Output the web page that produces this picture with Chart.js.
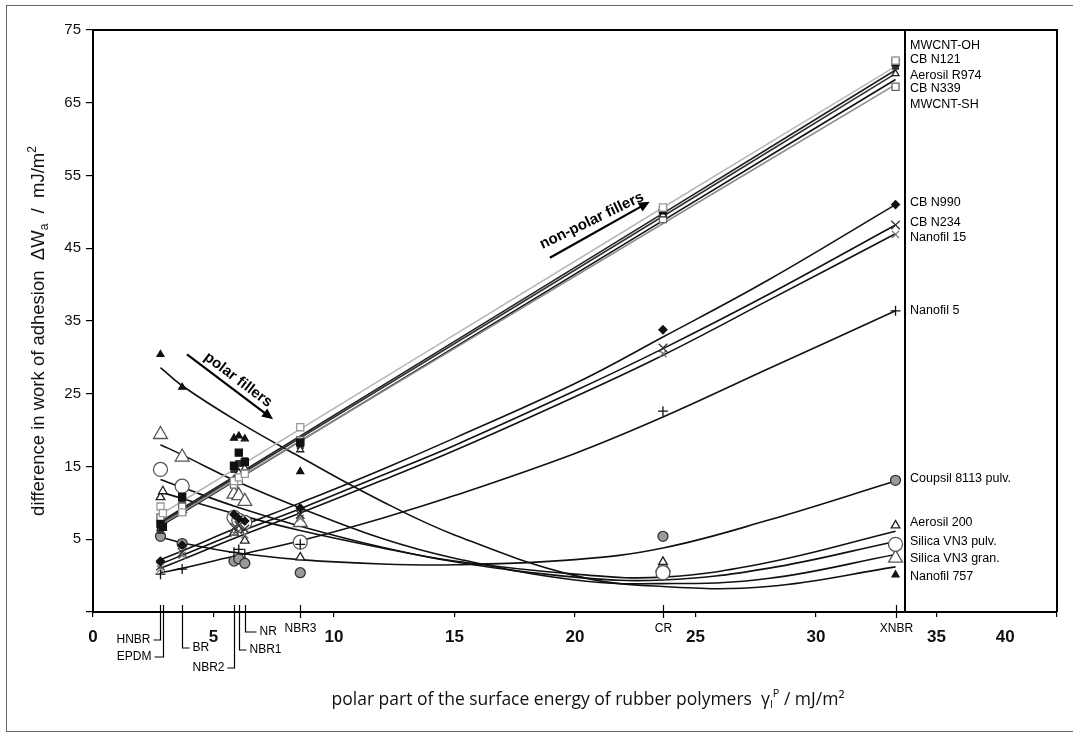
<!DOCTYPE html>
<html>
<head>
<meta charset="utf-8">
<script src="https://cdn.jsdelivr.net/npm/chart.js@4.4.1/dist/chart.umd.min.js"></script>
<style>
  body { margin: 0; background: #fff; }
  #wrap { width: 1073px; height: 738px; }
</style>
</head>
<body>
<div id="wrap"><canvas id="chart" width="1073" height="738"></canvas></div>
<script>
// rubber polymers and the polar part of their surface energy (mJ/m²)
const rubbers = ['HNBR', 'EPDM', 'BR', 'NBR2', 'NBR1', 'NR', 'NBR3', 'CR', 'XNBR'];
const polarPart = [2.8, 2.9, 3.7, 5.85, 6.05, 6.3, 8.6, 23.65, 33.3];
const xTicks = [0, 5, 10, 15, 20, 25, 30, 35, 40];

// measured ΔWa for each filler, one value per rubber above (null = no point)
const wMwcntOh   = [9.5, 8.6, 8.7, 13.0, 13.5, 14.0, 20.4, 50.6, 70.8];
const wCbN121    = [7.1, 6.7, 10.8, 15.1, 16.9, 15.6, 18.3, 50.2, 70.6];
const wAerosR974 = [6.5, null, 8.6, 13.2, 14.2, 14.8, 17.3, 49.6, 69.0];
const wCbN339    = [8.0, null, 9.5, 12.5, 13.0, 14.0, 18.6, 49.0, 67.2];
const wMwcntSh   = [6.2, null, 10.2, 14.6, 15.4, 15.8, 17.9, 49.8, 70.0];
const wCbN990    = [2.0, null, 4.2, 8.4, 7.8, 7.5, 9.3, 33.8, 51.0];
const wCbN234    = [1.3, null, 3.2, 6.6, 6.9, 6.4, 8.4, 31.3, 48.2];
const wNanofil15 = [0.9, null, 2.8, 5.8, 6.1, 5.6, 7.9, 30.5, 46.9];
const wNanofil5  = [0.2, null, 0.9, 3.2, 3.6, 3.0, 4.3, 22.6, 36.4];
const wCoupsil   = [5.4, null, 4.4, 2.0, 2.3, 1.7, 0.4, 5.4, 13.1];
const wAeros200  = [10.8, 11.6, 9.0, 5.9, 6.3, 4.8, 2.5, 1.9, 6.9];
const wVn3Pulv   = [14.6, null, 12.3, 8.0, 7.6, 7.3, 4.6, 0.4, 4.3];
const wVn3Gran   = [19.4, null, 16.3, 11.2, 11.0, 10.2, 7.3, 1.2, 2.4];
const wNanofil757 = [30.4, null, 25.9, 18.9, 19.2, 18.8, 14.3, 0.9, 0.1];

// trend curves, sampled at trendX
const trendX = [2.8, 3.7, 6, 8.6, 12, 15, 20, 23.65, 28, 33.3];
const tMwcntOh   = [8.4, null, null, null, null, null, null, 50.6, null, 70.0];
const tCbN121    = [7.4, null, null, null, null, null, null, 49.8, null, 69.5];
const tAerosR974 = [7.2, null, null, null, null, null, null, 49.4, null, 69.0];
const tCbN339    = [7.0, null, null, null, null, null, null, 48.4, null, 67.5];
const tMwcntSh   = [6.8, null, null, null, null, null, null, 48.8, null, 68.2];
const tCbN990    = [2.2, 3.4, 6.6, 10.0, 14.6, 18.9, 26.4, 32.8, 40.6, 51.0];
const tCbN234    = [1.6, 2.8, 5.9, 9.2, 13.8, 17.9, 25.4, 31.2, 38.6, 48.2];
const tNanofil15 = [1.0, 2.2, 5.3, 8.6, 13.1, 17.2, 24.6, 30.3, 37.8, 47.0];
const tNanofil5  = [0.4, 1.0, 2.8, 4.8, 7.9, 11.0, 16.8, 21.8, 28.4, 36.4];
const tCoupsil   = [5.3, 4.5, 3.1, 2.2, 1.6, 1.5, 2.2, 3.8, 7.6, 13.0];
const tAeros200  = [11.5, 10.6, 8.4, 6.2, 3.8, 2.0, 0.2, -0.2, 1.8, 6.1];
const tVn3Pulv   = [13.2, 12.1, 9.4, 6.8, 3.9, 1.9, -0.2, -0.6, 1.0, 4.7];
const tVn3Gran   = [18.0, 16.6, 12.9, 9.3, 5.1, 2.4, -0.6, -1.1, -0.4, 2.9];
const tNanofil757 = [28.6, 26.1, 21.2, 16.3, 10.2, 5.6, 0.0, -1.5, -1.5, 1.2];

const series = [
  { name: 'MWCNT-OH', measured: wMwcntOh, trend: tMwcntOh },
  { name: 'CB N121', measured: wCbN121, trend: tCbN121 },
  { name: 'Aerosil R974', measured: wAerosR974, trend: tAerosR974 },
  { name: 'CB N339', measured: wCbN339, trend: tCbN339 },
  { name: 'MWCNT-SH', measured: wMwcntSh, trend: tMwcntSh },
  { name: 'CB N990', measured: wCbN990, trend: tCbN990 },
  { name: 'CB N234', measured: wCbN234, trend: tCbN234 },
  { name: 'Nanofil 15', measured: wNanofil15, trend: tNanofil15 },
  { name: 'Nanofil 5', measured: wNanofil5, trend: tNanofil5 },
  { name: 'Coupsil 8113 pulv.', measured: wCoupsil, trend: tCoupsil },
  { name: 'Aerosil 200', measured: wAeros200, trend: tAeros200 },
  { name: 'Silica VN3 pulv.', measured: wVn3Pulv, trend: tVn3Pulv },
  { name: 'Silica VN3 gran.', measured: wVn3Gran, trend: tVn3Gran },
  { name: 'Nanofil 757', measured: wNanofil757, trend: tNanofil757 }
];

// marker and line look per filler
const looks = {
  'MWCNT-OH':           { style: 'rect', r: 5, fill: '#fff', stroke: '#9a9a9a', line: '#b8b8b8' },
  'CB N121':            { style: 'rect', r: 5, fill: '#111', stroke: '#111', line: '#222' },
  'Aerosil R974':       { style: 'triangle', r: 4, fill: '#fff', stroke: '#222', line: '#333' },
  'CB N339':            { style: 'rect', r: 5, fill: '#fff', stroke: '#666', line: '#8c8c8c' },
  'MWCNT-SH':           { style: 'rect', r: 4, fill: '#333', stroke: '#333', line: '#111' },
  'CB N990':            { style: 'rectRot', r: 4, fill: '#111', stroke: '#111', line: '#111' },
  'CB N234':            { style: 'crossRot', r: 6, fill: '#fff', stroke: '#333', line: '#111' },
  'Nanofil 15':         { style: 'crossRot', r: 5, fill: '#fff', stroke: '#777', line: '#111' },
  'Nanofil 5':          { style: 'cross', r: 5, fill: '#fff', stroke: '#111', line: '#111' },
  'Coupsil 8113 pulv.': { style: 'circle', r: 5, fill: '#9a9a9a', stroke: '#333', line: '#111' },
  'Aerosil 200':        { style: 'triangle', r: 5, fill: '#fff', stroke: '#222', line: '#111' },
  'Silica VN3 pulv.':   { style: 'circle', r: 7, fill: '#fff', stroke: '#555', line: '#111' },
  'Silica VN3 gran.':   { style: 'triangle', r: 8, fill: '#fff', stroke: '#555', line: '#111' },
  'Nanofil 757':        { style: 'triangle', r: 4, fill: '#111', stroke: '#111', line: '#111' }
};

// where each filler name sits in the right-hand margin (y value)
const nameAt = {
  'MWCNT-OH': 72.9, 'CB N121': 70.9, 'Aerosil R974': 68.8, 'CB N339': 66.9, 'MWCNT-SH': 64.7,
  'CB N990': 51.3, 'CB N234': 48.6, 'Nanofil 15': 46.5, 'Nanofil 5': 36.4,
  'Coupsil 8113 pulv.': 13.4, 'Aerosil 200': 7.3, 'Silica VN3 pulv.': 4.7,
  'Silica VN3 gran.': 2.4, 'Nanofil 757': -0.1
};

// bracket under the x axis for each rubber: drop in px, side of the label
const rubberTags = {
  HNBR: { drop: 28, side: -1, stub: 7 }, EPDM: { drop: 45, side: -1, stub: 9 },
  BR: { drop: 36, side: 1, stub: 7 }, NBR2: { drop: 56, side: -1, stub: 7 },
  NBR1: { drop: 38, side: 1, stub: 7 }, NR: { drop: 20, side: 1, stub: 11 },
  NBR3: { drop: 0 }, CR: { drop: 0 }, XNBR: { drop: 0 }
};

const datasets = [];
series.forEach(s => {
  const lk = looks[s.name];
  datasets.push({
    label: s.name + ' fit',
    data: trendX.map((x, i) => ({ x, y: s.trend[i] })).filter(p => p.y !== null),
    showLine: true,
    pointRadius: 0,
    borderColor: lk.line,
    borderWidth: 1.6,
    tension: 0.4,
    order: 2
  });
  datasets.push({
    label: s.name,
    data: polarPart.map((x, i) => ({ x, y: s.measured[i] })).filter(p => p.y !== null),
    showLine: false,
    pointStyle: lk.style,
    pointRadius: lk.r,
    backgroundColor: lk.fill,
    borderColor: lk.stroke,
    borderWidth: 1.3,
    order: 1
  });
});

const tickFont = '"Liberation Sans", Arial, sans-serif';

function arrow(ctx, x1, y1, x2, y2) {
  const a = Math.atan2(y2 - y1, x2 - x1);
  ctx.beginPath();
  ctx.moveTo(x1, y1);
  ctx.lineTo(x2 - 6 * Math.cos(a), y2 - 6 * Math.sin(a));
  ctx.lineWidth = 2.2;
  ctx.stroke();
  ctx.beginPath();
  ctx.moveTo(x2, y2);
  ctx.lineTo(x2 - 11 * Math.cos(a) + 5 * Math.sin(a), y2 - 11 * Math.sin(a) - 5 * Math.cos(a));
  ctx.lineTo(x2 - 11 * Math.cos(a) - 5 * Math.sin(a), y2 - 11 * Math.sin(a) + 5 * Math.cos(a));
  ctx.closePath();
  ctx.fill();
}

function tiltedText(ctx, text, cx, cy, angle) {
  ctx.save();
  ctx.translate(cx, cy);
  ctx.rotate(angle);
  ctx.textAlign = 'center';
  ctx.textBaseline = 'middle';
  ctx.fillText(text, 0, 0);
  ctx.restore();
}

// draws a run of [text, 'n'|'sub'|'sup'] pieces, centred on cx
function richText(ctx, parts, cx, cy, size, family) {
  const fontOf = k => (k === 'n' ? size : Math.round(size * 0.65)) + 'px ' + family;
  let total = 0;
  parts.forEach(([t, k]) => { ctx.font = fontOf(k); total += ctx.measureText(t).width; });
  let x = cx - total / 2;
  ctx.textAlign = 'left';
  ctx.textBaseline = 'middle';
  parts.forEach(([t, k]) => {
    ctx.font = fontOf(k);
    const dy = k === 'sub' ? size * 0.3 : k === 'sup' ? -size * 0.35 : 0;
    ctx.fillText(t, x, cy + dy);
    x += ctx.measureText(t).width;
  });
}

const decorations = {
  id: 'decorations',
  afterDraw(chart) {
    const { ctx, chartArea: a, scales: { x, y } } = chart;
    ctx.save();
    ctx.strokeStyle = '#000';
    ctx.fillStyle = '#000';

    // plot frame and the separator for the filler names
    ctx.lineWidth = 2;
    ctx.beginPath();
    ctx.moveTo(a.left, a.top);
    ctx.lineTo(a.right, a.top);
    ctx.lineTo(a.right, a.bottom);
    const sep = Math.round(x.getPixelForValue(33.7));
    ctx.moveTo(sep, a.top);
    ctx.lineTo(sep, a.bottom);
    ctx.stroke();

    // the last x tick label sits left of its tick, inside the frame
    ctx.font = 'bold 17px ' + tickFont;
    ctx.fillStyle = '#111';
    ctx.textAlign = 'center';
    ctx.textBaseline = 'middle';
    ctx.fillText(String(xTicks[xTicks.length - 1]), x.getPixelForValue(37.85), a.bottom + 25);

    // filler names
    ctx.fillStyle = '#000';
    ctx.font = '12.5px ' + tickFont;
    ctx.textAlign = 'left';
    series.forEach(s => ctx.fillText(s.name, sep + 5, y.getPixelForValue(nameAt[s.name])));

    // rubber ticks and brackets below the axis
    ctx.lineWidth = 1.2;
    ctx.font = '12px ' + tickFont;
    rubbers.forEach((name, i) => {
      const px = Math.round(x.getPixelForValue(polarPart[i])) + 0.5;
      const tag = rubberTags[name];
      ctx.beginPath();
      ctx.moveTo(px, a.bottom - 7);
      ctx.lineTo(px, a.bottom + (tag.drop || 6));
      if (tag.drop) {
        const ly = a.bottom + tag.drop;
        ctx.lineTo(px + tag.side * tag.stub, ly);
        ctx.stroke();
        ctx.textAlign = tag.side < 0 ? 'right' : 'left';
        ctx.fillText(name, px + tag.side * (tag.stub + 3), ly);
      } else {
        ctx.stroke();
        ctx.textAlign = 'center';
        ctx.fillText(name, px, a.bottom + 17);
      }
    });

    // direction arrows for the two filler families
    ctx.font = 'bold 15px ' + tickFont;
    const p1 = [x.getPixelForValue(3.9), y.getPixelForValue(30.4)];
    const p2 = [x.getPixelForValue(7.47), y.getPixelForValue(21.5)];
    arrow(ctx, p1[0], p1[1], p2[0], p2[1]);
    tiltedText(ctx, 'polar fillers', (p1[0] + p2[0]) / 2 + 8, (p1[1] + p2[1]) / 2 - 7,
      Math.atan2(p2[1] - p1[1], p2[0] - p1[0]));
    const q1 = [x.getPixelForValue(18.96), y.getPixelForValue(43.7)];
    const q2 = [x.getPixelForValue(23.1), y.getPixelForValue(51.4)];
    arrow(ctx, q1[0], q1[1], q2[0], q2[1]);
    tiltedText(ctx, 'non-polar fillers', (q1[0] + q2[0]) / 2 - 8, (q1[1] + q2[1]) / 2 - 9, -0.45);

    // axis titles
    ctx.fillStyle = '#111';
    richText(ctx, [['polar part of the surface energy of rubber polymers  γ', 'n'], ['l', 'sub'], ['P', 'sup'],
      [' / mJ/m²', 'n']], 588, 700, 17.5, '"Open Sans", sans-serif');
    ctx.save();
    ctx.translate(39, 331);
    ctx.rotate(-Math.PI / 2);
    richText(ctx, [['difference in work of adhesion  ΔW', 'n'], ['a', 'sub'], ['  /  mJ/m', 'n'], ['2', 'sup']],
      0, 0, 18.5, tickFont);
    ctx.restore();

    // outer border
    ctx.strokeStyle = '#666';
    ctx.lineWidth = 1;
    ctx.strokeRect(6.5, 5.5, 1068, 726);
    ctx.restore();
  }
};

new Chart(document.getElementById('chart'), {
  type: 'scatter',
  data: { datasets },
  options: {
    responsive: false,
    animation: false,
    layout: { padding: { left: 0, top: 30, right: 16, bottom: 0 } },
    plugins: { legend: { display: false }, tooltip: { enabled: false } },
    scales: {
      x: {
        type: 'linear', min: xTicks[0], max: xTicks[xTicks.length - 1],
        afterFit: s => { s.height = 126; },
        border: { display: true, color: '#000', width: 2 },
        grid: { drawOnChartArea: false, drawTicks: true, tickLength: 5, color: '#000', lineWidth: 1.2 },
        ticks: {
          stepSize: 5, padding: 10, color: '#111',
          font: { family: tickFont, size: 17, weight: 'bold' },
          callback: v => (v === xTicks[xTicks.length - 1] ? '' : v)
        }
      },
      y: {
        type: 'linear', min: -5, max: 75,
        afterFit: s => { s.width = 93; },
        border: { display: true, color: '#000', width: 2 },
        grid: { drawOnChartArea: false, drawTicks: true, tickLength: 7, color: '#000', lineWidth: 1.2 },
        ticks: {
          stepSize: 10, padding: 5, color: '#111',
          font: { family: tickFont, size: 15 },
          callback: v => (v < 0 ? '' : v)
        }
      }
    }
  },
  plugins: [decorations]
});
</script>
</body>
</html>
